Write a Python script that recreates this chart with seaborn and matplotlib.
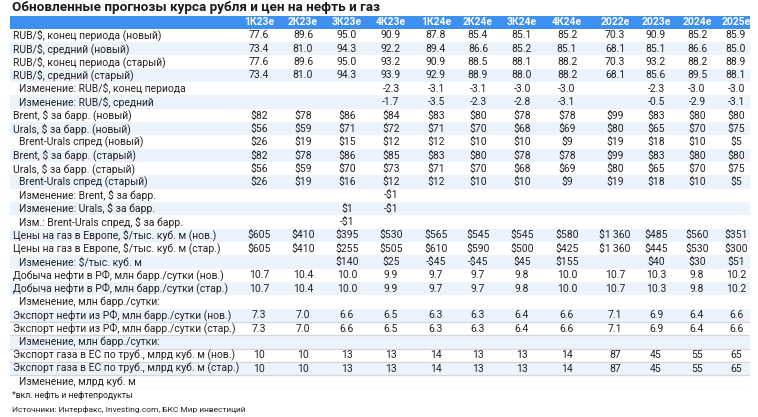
import numpy as np
import pandas as pd
import matplotlib
matplotlib.use("Agg")
import matplotlib.pyplot as plt
import seaborn as sns
from matplotlib.colors import ListedColormap
from matplotlib.transforms import blended_transform_factory

sns.set_theme(style="white")
plt.rcParams['font.family'] = ['Roboto', 'DejaVu Sans']

title = "Обновленные прогнозы курса рубля и цен на нефть и газ"
periods = ["1К23е", "2К23е", "3К23е", "4К23е", "1К24е", "2К24е", "3К24е", "4К24е",
           "2022е", "2023е", "2024е", "2025е"]

N = None
rub_end_new = [77.6, 89.6, 95.0, 90.9, 87.8, 85.4, 85.1, 85.2, 70.3, 90.9, 85.2, 85.9]
rub_avg_new = [73.4, 81.0, 94.3, 92.2, 89.4, 86.6, 85.2, 85.1, 68.1, 85.1, 86.6, 85.0]
rub_end_old = [77.6, 89.6, 95.0, 93.2, 90.9, 88.5, 88.1, 88.2, 70.3, 93.2, 88.2, 88.9]
rub_avg_old = [73.4, 81.0, 94.3, 93.9, 92.9, 88.9, 88.0, 88.2, 68.1, 85.6, 89.5, 88.1]
chg_rub_end = [N, N, N, -2.3, -3.1, -3.1, -3.0, -3.0, N, -2.3, -3.0, -3.0]
chg_rub_avg = [N, N, N, -1.7, -3.5, -2.3, -2.8, -3.1, N, -0.5, -2.9, -3.1]
brent_new = [82, 78, 86, 84, 83, 80, 78, 78, 99, 83, 80, 80]
urals_new = [56, 59, 71, 72, 71, 70, 68, 69, 80, 65, 70, 75]
spread_new = [26, 19, 15, 12, 12, 10, 10, 9, 19, 18, 10, 5]
brent_old = [82, 78, 86, 85, 83, 80, 78, 78, 99, 83, 80, 80]
urals_old = [56, 59, 70, 73, 71, 70, 68, 69, 80, 65, 70, 75]
spread_old = [26, 19, 16, 12, 12, 10, 10, 9, 19, 18, 10, 5]
chg_brent = [N, N, N, -1, N, N, N, N, N, N, N, N]
chg_urals = [N, N, 1, -1, N, N, N, N, N, N, N, N]
chg_spread = [N, N, -1, N, N, N, N, N, N, N, N, N]
gas_new = [605, 410, 395, 530, 565, 545, 545, 580, 1360, 485, 560, 351]
gas_old = [605, 410, 255, 505, 610, 590, 500, 425, 1360, 445, 530, 300]
chg_gas = [N, N, 140, 25, -45, -45, 45, 155, N, 40, 30, 51]
oil_prod_new = [10.7, 10.4, 10.0, 9.9, 9.7, 9.7, 9.8, 10.0, 10.7, 10.3, 9.8, 10.2]
oil_prod_old = [10.7, 10.4, 10.0, 9.9, 9.7, 9.7, 9.8, 10.0, 10.7, 10.3, 9.8, 10.2]
chg_oil_prod = [N] * 12
oil_exp_new = [7.3, 7.0, 6.6, 6.5, 6.3, 6.3, 6.4, 6.6, 7.1, 6.9, 6.4, 6.6]
oil_exp_old = [7.3, 7.0, 6.6, 6.5, 6.3, 6.3, 6.4, 6.6, 7.1, 6.9, 6.4, 6.6]
chg_oil_exp = [N] * 12
gas_exp_new = [10, 10, 13, 13, 14, 13, 13, 14, 87, 45, 55, 65]
gas_exp_old = [10, 10, 13, 13, 14, 13, 13, 14, 87, 45, 55, 65]
chg_gas_exp = [N] * 12

# (label, values, format, indented)
rows = [
    ("RUB/$, конец периода (новый)", rub_end_new, "f1", False),
    ("RUB/$, средний (новый)", rub_avg_new, "f1", False),
    ("RUB/$, конец периода (старый)", rub_end_old, "f1", False),
    ("RUB/$, средний (старый)", rub_avg_old, "f1", False),
    ("Изменение: RUB/$, конец периода", chg_rub_end, "f1", True),
    ("Изменение: RUB/$, средний", chg_rub_avg, "f1", True),
    ("Brent, $ за барр. (новый)", brent_new, "usd", False),
    ("Urals, $ за барр. (новый)", urals_new, "usd", False),
    ("Brent-Urals спред (новый)", spread_new, "usd", True),
    ("Brent, $ за барр. (старый)", brent_old, "usd", False),
    ("Urals, $ за барр. (старый)", urals_old, "usd", False),
    ("Brent-Urals спред (старый)", spread_old, "usd", True),
    ("Изменение: Brent, $ за барр.", chg_brent, "usd", True),
    ("Изменение: Urals, $ за барр.", chg_urals, "usd", True),
    ("Изм.: Brent-Urals спред, $ за барр.", chg_spread, "usd", True),
    ("Цены на газ в Европе, $/тыс. куб. м (нов.)", gas_new, "usd", False),
    ("Цены на газ в Европе, $/тыс. куб. м (стар.)", gas_old, "usd", False),
    ("Изменение: $/тыс. куб. м", chg_gas, "usd", True),
    ("Добыча нефти в РФ, млн барр./сутки (нов.)", oil_prod_new, "f1", False),
    ("Добыча нефти в РФ, млн барр./сутки (стар.)", oil_prod_old, "f1", False),
    ("Изменение, млн барр./сутки:", chg_oil_prod, "f1", True),
    ("Экспорт нефти из РФ, млн барр./сутки (нов.)", oil_exp_new, "f1", False),
    ("Экспорт нефти из РФ, млн барр./сутки (стар.)", oil_exp_old, "f1", False),
    ("Изменение, млн барр./сутки:", chg_oil_exp, "f1", True),
    ("Экспорт газа в ЕС по труб., млрд куб. м (нов.)", gas_exp_new, "int", False),
    ("Экспорт газа в ЕС по труб., млрд куб. м (стар.)", gas_exp_old, "int", False),
    ("Изменение, млрд куб. м", chg_gas_exp, "int", True),
]
footnote = "*вкл. нефть и нефтепродукты"
source = "Источники: Интерфакс, Investing.com, БКС Мир инвестиций"


def fmt(v, kind):
    if v is None:
        return ""
    if kind == "f1":
        return f"{v:.1f}"
    if kind == "int":
        return f"{v:d}"
    s = f"{abs(v):,}".replace(",", "\u2009")
    return ("-$" if v < 0 else "$") + s


W, H = 758, 417
fig = plt.figure(figsize=(W / 100, H / 100), dpi=100)
left_px, right_px, top_px, bot_px = 10, 750, 15.5, 388.5
ax = fig.add_axes([left_px / W, 1 - bot_px / H, (right_px - left_px) / W, (bot_px - top_px) / H])

shade = [2] + [i % 2 for i in range(len(rows))]
shade_df = pd.DataFrame({"band": shade})
cmap = ListedColormap(["#ffffff", "#edf3fc", "#3d8ff0"])
sns.heatmap(shade_df, ax=ax, cmap=cmap, vmin=-0.5, vmax=2.5, cbar=False,
            xticklabels=False, yticklabels=False, linewidths=0)
ax.set_xlim(0, 1)

col_px = [259, 303, 347, 391, 436, 478, 522, 567, 615, 656, 697, 736]
col_x = [(p - left_px) / (right_px - left_px) for p in col_px]
tr = blended_transform_factory(ax.transAxes, ax.transData)

fs = 7.5
txt_col = "#222222"
for j, p in enumerate(periods):
    ax.text(col_x[j], 0.5, p, transform=tr, ha="center", va="center",
            color="white", fontsize=fs, fontweight="semibold")

lab_main = (13 - left_px) / (right_px - left_px)
lab_ind = (19 - left_px) / (right_px - left_px)
for i, (label, vals, kind, ind) in enumerate(rows):
    y = i + 1.5
    ax.text(lab_ind if ind else lab_main, y, label, transform=tr, ha="left",
            va="center", color=txt_col, fontsize=fs)
    for j, v in enumerate(vals):
        s = fmt(v, kind)
        if s:
            ax.text(col_x[j], y, s, transform=tr, ha="center", va="center",
                    color=txt_col, fontsize=fs)

# separator lines in the lower block
for k in range(22, len(rows) + 1):
    ax.axhline(k + 1, color="#d4d6da", lw=0.9)

fig.text(12 / W, 1 - 8 / H, title, ha="left", va="center", fontsize=9.7,
         fontweight="semibold", color="#1a1a1a")
fig.text(12 / W, 1 - 396 / H, footnote, ha="left", va="center", fontsize=6.2, color=txt_col)
fig.text(12 / W, 1 - 409 / H, source, ha="left", va="center", fontsize=6.0, color=txt_col)

fig.savefig("out.png", dpi=100)
